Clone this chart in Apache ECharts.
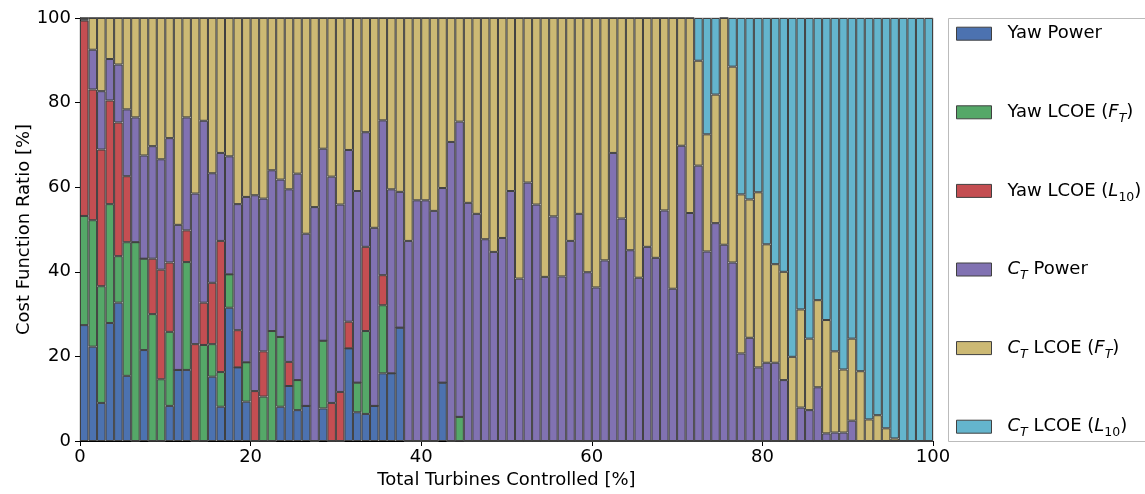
<!DOCTYPE html>
<html><head><meta charset="utf-8">
<script src="https://cdn.jsdelivr.net/npm/echarts@6/dist/echarts.min.js"></script>
<style>html,body{margin:0;padding:0;background:#fff}#c{width:1145px;height:494px}</style>
</head><body><div id="c"></div>
<script>
// bin start (% of turbines controlled), one bar per 1 % bin
const categories = [];
for (let i = 0; i < 100; i++) categories.push(String(i));
const xTicks = [0, 20, 40, 60, 80, 100];
const yTicks = [0, 20, 40, 60, 80, 100];

const seriesNames = ['Yaw Power', 'Yaw LCOE (F_T)', 'Yaw LCOE (L_10)', 'C_T Power', 'C_T LCOE (F_T)', 'C_T LCOE (L_10)'];

const yawPower = [
 27.4,22.3,9.0,27.9,32.7,15.4,0,21.5,0,0,
 8.3,16.8,16.8,0,0,15.2,8.1,31.5,17.4,9.3,
 0,0,0,8.1,13.0,7.3,8.3,0,7.7,0,
 0,21.9,6.8,6.4,8.3,16.0,16.0,26.8,0,0,
 0,0,13.8,0,0,0,0,0,0,0,
 0,0,0,0,0,0,0,0,0,0,
 0,0,0,0,0,0,0,0,0,0,
 0,0,0,0,0,0,0,0,0,0,
 0,0,0,0,0,0,0,0,0,0,
 0,0,0,0,0,0,0,0,0,0];
const yawFT = [
 25.8,29.9,27.6,28.1,11.0,31.6,47.0,21.6,30.0,14.6,
 17.5,0,25.5,0,22.7,7.7,8.2,7.9,0,9.3,
 0,10.5,26.0,16.5,0,7.1,0,0,16.0,0,
 0,0,7.0,19.6,0,16.1,0,0,0,0,
 0,0,0,0,5.7,0,0,0,0,0,
 0,0,0,0,0,0,0,0,0,0,
 0,0,0,0,0,0,0,0,0,0,
 0,0,0,0,0,0,0,0,0,0,
 0,0,0,0,0,0,0,0,0,0,
 0,0,0,0,0,0,0,0,0,0];
const yawL10 = [
 46.2,30.9,32.3,24.5,31.6,15.6,0,0,13.1,25.9,
 16.4,0,7.5,22.9,10.0,14.5,31.0,0,8.8,0,
 11.8,10.7,0,0,5.7,0,0,0,0,9.0,
 11.6,6.3,0,19.9,0,7.1,0,0,0,0,
 0,0,0,0,0,0,0,0,0,0,
 0,0,0,0,0,0,0,0,0,0,
 0,0,0,0,0,0,0,0,0,0,
 0,0,0,0,0,0,0,0,0,0,
 0,0,0,0,0,0,0,0,0,0,
 0,0,0,0,0,0,0,0,0,0];
const ctPower = [
 0.3,9.4,13.8,9.8,13.7,15.8,29.5,24.4,26.6,26.1,
 29.4,34.3,26.7,35.6,43.0,25.9,20.8,27.9,29.8,39.1,
 46.3,36.1,38.0,37.2,40.8,48.8,40.7,55.3,45.4,53.5,
 44.3,40.6,45.3,27.1,42.1,36.6,43.5,32.1,47.3,56.9,
 56.9,54.4,46.0,70.7,69.8,56.3,53.7,47.7,44.7,48.0,
 59.1,38.4,61.1,55.9,38.8,53.1,38.9,47.3,53.7,39.9,
 36.3,42.7,68.1,52.6,45.1,38.6,45.9,43.3,54.5,36.0,
 69.8,53.9,65.1,44.8,51.5,46.4,42.2,20.7,24.4,17.4,
 18.5,18.5,14.4,0,7.9,7.3,12.7,1.8,2.0,2.0,
 4.8,0,0,0,0,0,0,0,0,0];
const ctFT = [
 0.3,7.5,17.3,9.7,11.0,21.6,23.5,32.5,30.3,33.4,
 28.4,48.9,23.5,41.5,24.3,36.7,31.9,32.7,44.0,42.3,
 41.9,42.7,36.0,38.2,40.5,36.8,51.0,44.7,30.9,37.5,
 44.1,31.2,40.9,27.0,49.6,24.2,40.5,41.1,52.7,43.1,
 43.1,45.6,40.2,29.3,24.5,43.7,46.3,52.3,55.3,52.0,
 40.9,61.6,38.9,44.1,61.2,46.9,61.1,52.7,46.3,60.1,
 63.7,57.3,31.9,47.4,54.9,61.4,54.1,56.7,45.5,64.0,
 30.2,46.1,24.8,27.7,30.4,53.6,46.3,37.6,32.7,41.4,
 28.0,23.3,25.6,19.9,23.2,16.9,20.6,26.8,19.2,14.9,
 19.4,16.5,5.1,6.1,3.0,0.6,0,0,0,0];
const ctL10 = [
 0,0,0,0,0,0,0,0,0,0,
 0,0,0,0,0,0,0,0,0,0,
 0,0,0,0,0,0,0,0,0,0,
 0,0,0,0,0,0,0,0,0,0,
 0,0,0,0,0,0,0,0,0,0,
 0,0,0,0,0,0,0,0,0,0,
 0,0,0,0,0,0,0,0,0,0,
 0,0,10.1,27.5,18.1,0,11.5,41.7,42.9,41.2,
 53.5,58.2,60.0,80.1,68.9,75.8,66.7,71.4,78.8,83.1,
 75.8,83.5,94.9,93.9,97.0,99.4,100,100,100,100];

const seriesData = [yawPower, yawFT, yawL10, ctPower, ctFT, ctL10];
const colors = ['#4C72B0', '#55A868', '#C44E52', '#8172B2', '#CCB974', '#64B5CD'];
const legendLabels = {
  'Yaw Power': 'Yaw Power',
  'Yaw LCOE (F_T)': 'Yaw LCOE ({it|F}{subi|T})',
  'Yaw LCOE (L_10)': 'Yaw LCOE ({it|L}{sub|10})',
  'C_T Power': '{it|C}{subi|T} Power',
  'C_T LCOE (F_T)': '{it|C}{subi|T} LCOE ({it|F}{subi|T})',
  'C_T LCOE (L_10)': '{it|C}{subi|T} LCOE ({it|L}{sub|10})'
};

const FONT = 'DejaVu Sans';
const FS = 18;
const EDGE = '#404040';
const chart = echarts.init(document.getElementById('c'), null, {renderer: 'canvas'});

chart.setOption({
  animation: false,
  backgroundColor: '#fff',
  color: colors,
  textStyle: {fontFamily: FONT},
  grid: {left: 80, right: 212, top: 18, bottom: 52, show: true, borderColor: '#bbb', borderWidth: 1},
  xAxis: [
    {type: 'category', data: categories, show: false, boundaryGap: true},
    {type: 'value', min: xTicks[0], max: xTicks[xTicks.length - 1], interval: xTicks[1] - xTicks[0], position: 'bottom',
     axisLine: {show: true, onZero: false, lineStyle: {color: '#000', width: 1}},
     axisTick: {show: true, length: 5, lineStyle: {color: '#000'}},
     axisLabel: {fontSize: FS, color: '#000', fontFamily: FONT, margin: 7},
     splitLine: {show: false},
     name: 'Total Turbines Controlled [%]', nameLocation: 'middle', nameGap: 30, nameMoveOverlap: false,
     nameTextStyle: {fontSize: FS, color: '#000', fontFamily: FONT}}
  ],
  yAxis: {type: 'value', min: yTicks[0], max: yTicks[yTicks.length - 1], interval: yTicks[1] - yTicks[0],
    axisLine: {show: true, lineStyle: {color: '#000', width: 1}},
    axisTick: {show: true, length: 5, lineStyle: {color: '#000'}},
    axisLabel: {fontSize: FS, color: '#000', fontFamily: FONT, margin: 9},
    splitLine: {show: false},
    name: 'Cost Function Ratio [%]', nameLocation: 'middle', nameGap: 47, nameRotate: 90, nameMoveOverlap: false,
    nameTextStyle: {fontSize: FS, color: '#000', fontFamily: FONT}},
  legend: {
    orient: 'vertical', left: 956, top: 20.7, padding: 0, itemWidth: 35, itemHeight: 13, itemGap: 52.6,
    icon: 'rect', selectedMode: false, data: seriesNames,
    itemStyle: {borderColor: EDGE, borderWidth: 1},
    formatter: n => legendLabels[n],
    textStyle: {fontSize: FS, fontFamily: FONT, color: '#000', lineHeight: 26, padding: [0, 0, 0, 11],
      rich: {
        it: {fontStyle: 'italic', fontSize: FS, fontFamily: FONT, color: '#000', lineHeight: 26},
        subi: {fontStyle: 'italic', fontSize: 12.5, fontFamily: FONT, color: '#000', verticalAlign: 'bottom', lineHeight: 13},
        sub: {fontSize: 12.5, fontFamily: FONT, color: '#000', verticalAlign: 'bottom', lineHeight: 13}
      }}
  },
  graphic: [{type: 'rect', shape: {x: 948.5, y: 18.5, width: 260, height: 423}, style: {fill: 'none', stroke: '#bbb', lineWidth: 1}, silent: true}],
  series: seriesNames.map((name, k) => ({
    name: name, type: 'bar', stack: 'total', xAxisIndex: 0, yAxisIndex: 0,
    barCategoryGap: '0%', barGap: '0%',
    itemStyle: {color: colors[k], borderColor: EDGE, borderWidth: 1},
    data: seriesData[k]
  }))
});
</script></body></html>
